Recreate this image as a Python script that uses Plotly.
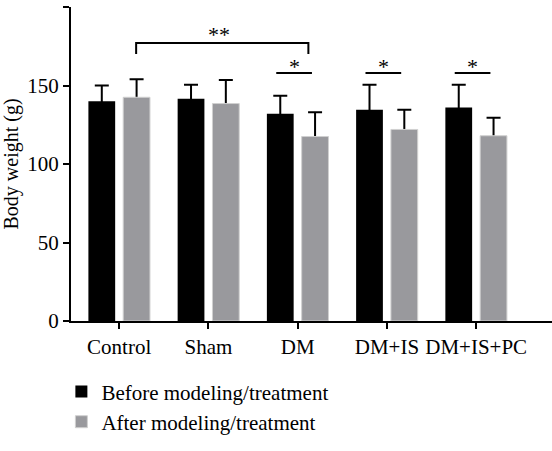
import plotly.graph_objects as go

categories = ["Control", "Sham", "DM", "DM+IS", "DM+IS+PC"]
before_mean = [140, 141.5, 132, 134.5, 136]
before_sd = [10, 9, 11.5, 16, 14.5]
after_mean = [142.5, 138.5, 117.5, 122, 118]
after_sd = [11.5, 15, 15.5, 12.5, 11.5]
series_names = ["Before modeling/treatment", "After modeling/treatment"]

# significance marks: (start index, end index, line level, label)
sig_pairs_star = [2, 3, 4]
sig_star_level = 158
sig_bracket = (0, 2, 177, 170, "**")

FONT = "Liberation Serif"
BLACK = "#000000"
GRAY = "#99999d"
W = 0.30
OFF_B = -0.345
OFF_A = 0.045

fig = go.Figure()
xi = list(range(len(categories)))

# carrier traces for error bars (drawn beneath the real bars)
for mean, sd, off in [(before_mean, before_sd, OFF_B), (after_mean, after_sd, OFF_A)]:
    fig.add_trace(go.Bar(
        x=xi, y=mean, width=W, offset=off,
        marker=dict(color="rgba(0,0,0,0)", line=dict(width=0)),
        error_y=dict(type="data", symmetric=False, array=sd, arrayminus=mean,
                     color=BLACK, thickness=2, width=7),
        showlegend=False, hoverinfo="skip"))

fig.add_trace(go.Bar(
    x=xi, y=before_mean, width=W, offset=OFF_B, name=series_names[0],
    marker=dict(color=BLACK, line=dict(width=0))))
fig.add_trace(go.Bar(
    x=xi, y=after_mean, width=W, offset=OFF_A, name=series_names[1],
    marker=dict(color=GRAY, line=dict(color="#d0d0d0", width=1))))

shapes = []
annotations = []
for i in sig_pairs_star:
    shapes.append(dict(type="line", xref="x", yref="y", x0=i - 0.24, x1=i + 0.16,
                       y0=sig_star_level, y1=sig_star_level, line=dict(color=BLACK, width=2)))
    annotations.append(dict(x=i - 0.04, y=sig_star_level, xref="x", yref="y", text="*",
                            showarrow=False, yanchor="bottom", yshift=-8,
                            font=dict(family=FONT, size=22, color=BLACK)))
a, b, lvl, drop, lab = sig_bracket
xa, xb = a + 0.19, b + 0.12
shapes.append(dict(type="path", xref="x", yref="y",
                   path=f"M {xa},{drop} L {xa},{lvl} L {xb},{lvl} L {xb},{drop}",
                   line=dict(color=BLACK, width=2)))
annotations.append(dict(x=(xa + xb) / 2 - 0.04, y=lvl, xref="x", yref="y", text=lab,
                        showarrow=False, yanchor="bottom", yshift=-6,
                        font=dict(family=FONT, size=22, color=BLACK)))

fig.update_layout(
    width=552, height=451,
    margin=dict(l=71, r=0, t=7, b=130),
    plot_bgcolor="white", paper_bgcolor="white",
    barmode="overlay",
    font=dict(family=FONT, size=21, color=BLACK),
    shapes=shapes, annotations=annotations,
    legend=dict(x=-0.02, y=-0.16, xanchor="left", yanchor="top",
                font=dict(family=FONT, size=21, color=BLACK),
                bgcolor="rgba(0,0,0,0)", tracegroupgap=0),
    xaxis=dict(range=[-0.54, 4.85], tickmode="array", tickvals=xi, ticktext=categories,
               showline=True, linecolor=BLACK, linewidth=2, ticks="outside",
               ticklen=6, tickwidth=2, tickcolor=BLACK, showgrid=False, zeroline=False,
               tickfont=dict(family=FONT, size=21, color=BLACK)),
    yaxis=dict(range=[0, 200], tickvals=[0, 50, 100, 150, 200],
               showline=True, linecolor=BLACK, linewidth=2, ticks="outside",
               ticklen=6, tickwidth=2, tickcolor=BLACK, showgrid=False, zeroline=False,
               tickfont=dict(family=FONT, size=21, color=BLACK),
               title=dict(text="Body weight (g)", font=dict(family=FONT, size=20, color=BLACK),
                          standoff=6)),
)

fig.write_html("out.html", config={"displayModeBar": False},
               post_script="document.body.style.margin='0';document.body.style.overflow='hidden';")
